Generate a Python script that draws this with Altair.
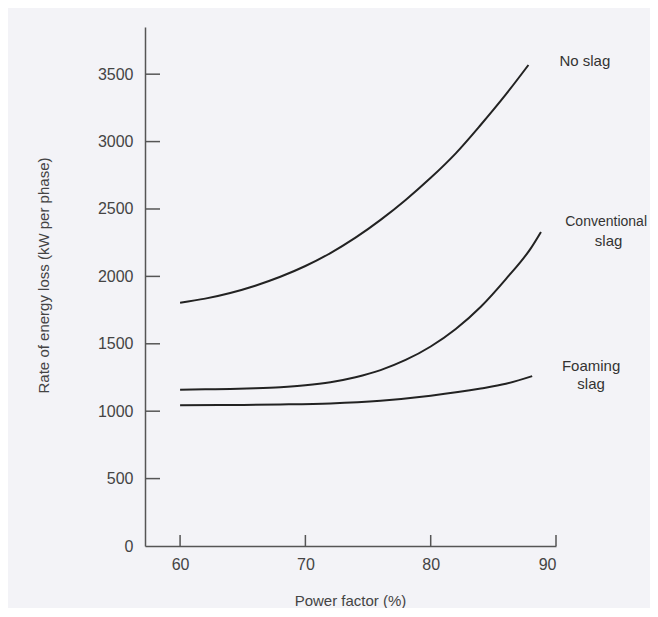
import altair as alt
import pandas as pd

# ---- data ----
no_slag_x = [60, 62, 64, 66, 68, 70, 72, 74, 76, 78, 80, 82, 84, 86, 87.8]
no_slag_y = [1805, 1835, 1877, 1931, 1997, 2077, 2173, 2287, 2419, 2567, 2731, 2913, 3125, 3350, 3568]

conv_x = [60, 62, 64, 66, 68, 70, 72, 74, 76, 78, 80, 82, 84, 86, 88, 88.8]
conv_y = [1160, 1162, 1165, 1170, 1178, 1192, 1215, 1252, 1305, 1380, 1480, 1610, 1775, 1980, 2210, 2330]

foam_x = [60, 64, 68, 72, 76, 80, 84, 86, 88.1]
foam_y = [1045, 1046, 1050, 1058, 1078, 1115, 1168, 1203, 1260]

series_names = ["No slag", "Conventional slag", "Foaming slag"]

x_ticks = [60, 70, 80, 90]
y_ticks = [500, 1000, 1500, 2000, 2500, 3000, 3500]

label_text = ["No slag", "Conventional", "slag", "Foaming", "slag"]
label_x = [92.3, 94.0, 94.2, 92.8, 92.8]
label_y = [3595, 2402, 2262, 1334, 1200]
label_size = [15, 14, 15, 15, 15]

# ---- tables ----
rows = []
for name, xs, ys in zip(series_names, [no_slag_x, conv_x, foam_x], [no_slag_y, conv_y, foam_y]):
    for a, b in zip(xs, ys):
        rows.append({"series": name, "pf": a, "loss": b})
df = pd.DataFrame(rows)
labels_df = pd.DataFrame({"text": label_text, "pf": label_x, "loss": label_y, "size": label_size})
xt_df = pd.DataFrame({"pf": x_ticks})
yt_df = pd.DataFrame({"loss": y_ticks})

W, H = 411, 519
FONT = "Liberation Sans"
xscale = alt.Scale(domain=[57.2, 90], nice=False, zero=False)
yscale = alt.Scale(domain=[0, 3850], nice=False)

xaxis = alt.Axis(values=x_ticks, format="d", ticks=False, grid=False, labelPadding=10,
                 labelFontSize=16, labelColor="#444", labelFont=FONT,
                 domainColor="#555", domainWidth=1.5,
                 title="Power factor (%)", titleFont=FONT, titleFontSize=15,
                 titleFontWeight="normal", titleColor="#444",
                 titleX=205, titleY=54, titleBaseline="middle", titleAlign="center")
yaxis = alt.Axis(values=[0] + y_ticks, format="d", ticks=False, grid=False, labelPadding=12,
                 labelFontSize=16, labelColor="#444", labelFont=FONT,
                 domainColor="#555", domainWidth=1.5,
                 title="Rate of energy loss (kW per phase)", titleFont=FONT, titleFontSize=15,
                 titleFontWeight="normal", titleColor="#444",
                 titleAngle=270, titleX=-102, titleY=248,
                 titleBaseline="middle", titleAlign="center")

lines = alt.Chart(df).mark_line(color="#222", strokeWidth=2, interpolate="monotone").encode(
    x=alt.X("pf:Q", scale=xscale, axis=xaxis),
    y=alt.Y("loss:Q", scale=yscale, axis=yaxis),
    detail="series:N",
)

xticks = alt.Chart(xt_df).mark_rule(color="#555", strokeWidth=1.5).encode(
    x=alt.X("pf:Q", scale=xscale),
    y=alt.value(H), y2=alt.value(H - 11),
)
yticks = alt.Chart(yt_df).mark_rule(color="#555", strokeWidth=1.5).encode(
    y=alt.Y("loss:Q", scale=yscale),
    x=alt.value(0), x2=alt.value(15),
)

texts = alt.Chart(labels_df).mark_text(font=FONT, color="#333",
                                       align="center", baseline="middle", clip=False).encode(
    x=alt.X("pf:Q", scale=xscale),
    y=alt.Y("loss:Q", scale=yscale),
    text="text:N",
    size=alt.Size("size:Q", scale=None, legend=None),
)

chart = (lines + xticks + yticks + texts).properties(
    width=W, height=H,
    padding={"left": 137, "top": 19, "right": 94, "bottom": 62},
    autosize=alt.AutoSizeParams(type="none"),
).configure(background="#f3f3f7").configure_view(stroke=None)

chart.save("out.html", embed_options={"renderer": "svg", "actions": False})
